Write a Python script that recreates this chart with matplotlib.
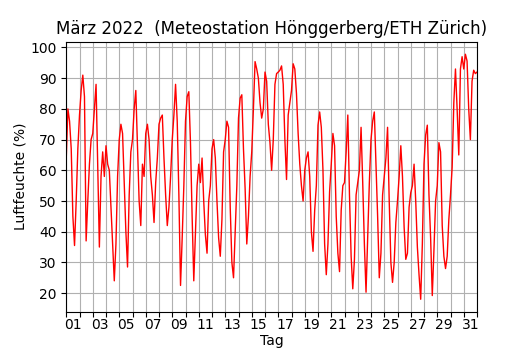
import matplotlib
matplotlib.use("Agg")
import matplotlib.dates as mdates
import matplotlib.pyplot as plt
import numpy as np
import pandas as pd

START = "2022-03-01"
STEP_H = 3                     # one value every 3 hours
# relative humidity (%), 8 values per day, day 1 .. day 31, plus final midnight
HUM_D01 = [64, 80, 76, 67, 45, 35.5, 50, 67]
HUM_D02 = [78, 86, 91, 84, 37, 50, 62, 70]
HUM_D03 = [72, 80, 88, 62, 35, 58, 66, 58]
HUM_D04 = [68, 62, 60, 48, 36, 24, 36, 58]
HUM_D05 = [70, 75, 72, 56, 40, 28.5, 52, 66]
HUM_D06 = [70, 80, 86, 68, 50, 42, 62, 58]
HUM_D07 = [72, 75, 70, 58, 52, 43, 56, 64]
HUM_D08 = [75, 77, 78, 64, 52, 42, 48, 58]
HUM_D09 = [70, 78, 88, 76, 52, 22.5, 38, 55]
HUM_D10 = [76, 84, 85.6, 69, 45, 24, 40, 55]
HUM_D11 = [62, 56, 64, 50, 39, 33, 50, 55]
HUM_D12 = [67, 70, 64, 50, 38, 32, 44, 66]
HUM_D13 = [70, 76, 74, 48, 30, 25, 40, 55]
HUM_D14 = [77, 83.5, 84.6, 67, 54, 36, 45, 58]
HUM_D15 = [66, 80, 95.4, 93, 90, 82, 77, 80]
HUM_D16 = [92, 89, 75, 69, 60, 70, 88, 91.5]
HUM_D17 = [92, 92.6, 94, 88, 70, 57, 78, 82]
HUM_D18 = [86, 94.7, 93, 85, 72, 62, 55, 50]
HUM_D19 = [60, 64, 66, 58, 40, 33.6, 47, 55]
HUM_D20 = [74.7, 79, 74, 60, 36, 26, 36, 53]
HUM_D21 = [62, 72, 68, 45, 33, 27, 47, 55]
HUM_D22 = [56, 66, 78, 52, 32, 21.4, 31, 52]
HUM_D23 = [56, 60, 74, 56, 36, 20.3, 38, 56]
HUM_D24 = [70, 76, 79, 62, 45, 25, 33, 52]
HUM_D25 = [58, 64, 74, 50, 30, 23.5, 30, 43]
HUM_D26 = [50, 58, 68, 58, 41.5, 31, 33, 48]
HUM_D27 = [52.7, 55, 62, 50, 35, 26, 18, 36]
HUM_D28 = [62, 71.5, 74.7, 52, 38, 19.2, 34, 50]
HUM_D29 = [55, 69, 66, 42, 32, 28, 32, 44]
HUM_D30 = [52, 61, 82, 93, 80, 65, 93, 97]
HUM_D31 = [93, 97.8, 95.6, 80, 70, 89, 92.6, 91.5]
HUM_END = [92]

TITLE = "März 2022  (Meteostation Hönggerberg/ETH Zürich)"


def main():
    hum = np.array(HUM_D01 + HUM_D02 + HUM_D03 + HUM_D04 + HUM_D05 + HUM_D06 + HUM_D07
                   + HUM_D08 + HUM_D09 + HUM_D10 + HUM_D11 + HUM_D12 + HUM_D13 + HUM_D14
                   + HUM_D15 + HUM_D16 + HUM_D17 + HUM_D18 + HUM_D19 + HUM_D20 + HUM_D21
                   + HUM_D22 + HUM_D23 + HUM_D24 + HUM_D25 + HUM_D26 + HUM_D27 + HUM_D28
                   + HUM_D29 + HUM_D30 + HUM_D31 + HUM_END, dtype=float)
    t = pd.date_range(START, periods=len(hum), freq=f"{STEP_H}h")

    fig, ax = plt.subplots(figsize=(5.3, 3.5), dpi=100)
    ax.plot(t, hum, color="red", lw=1.0)
    ax.set_xlim(pd.Timestamp("2022-03-01"), pd.Timestamp("2022-04-01"))

    # grid/ticks at every midnight, labels at noon of odd days
    ax.xaxis.set_major_locator(mdates.DayLocator())
    ax.xaxis.set_major_formatter(plt.NullFormatter())
    ax.set_xticks([pd.Timestamp(f"2022-03-{d:02d} 12:00") for d in range(1, 32, 2)], minor=True)
    ax.xaxis.set_minor_formatter(mdates.DateFormatter("%d"))
    ax.tick_params(axis="x", which="minor", length=0, pad=5)
    ax.grid(True, which="major", color="#b0b0b0", lw=0.8)

    ax.set_title(TITLE)
    ax.set_ylabel("Luftfeuchte (%)", labelpad=2)
    ax.set_xlabel("Tag", labelpad=1)
    fig.savefig("out.png", dpi=100)
    plt.close(fig)


if __name__ == "__main__":
    main()
